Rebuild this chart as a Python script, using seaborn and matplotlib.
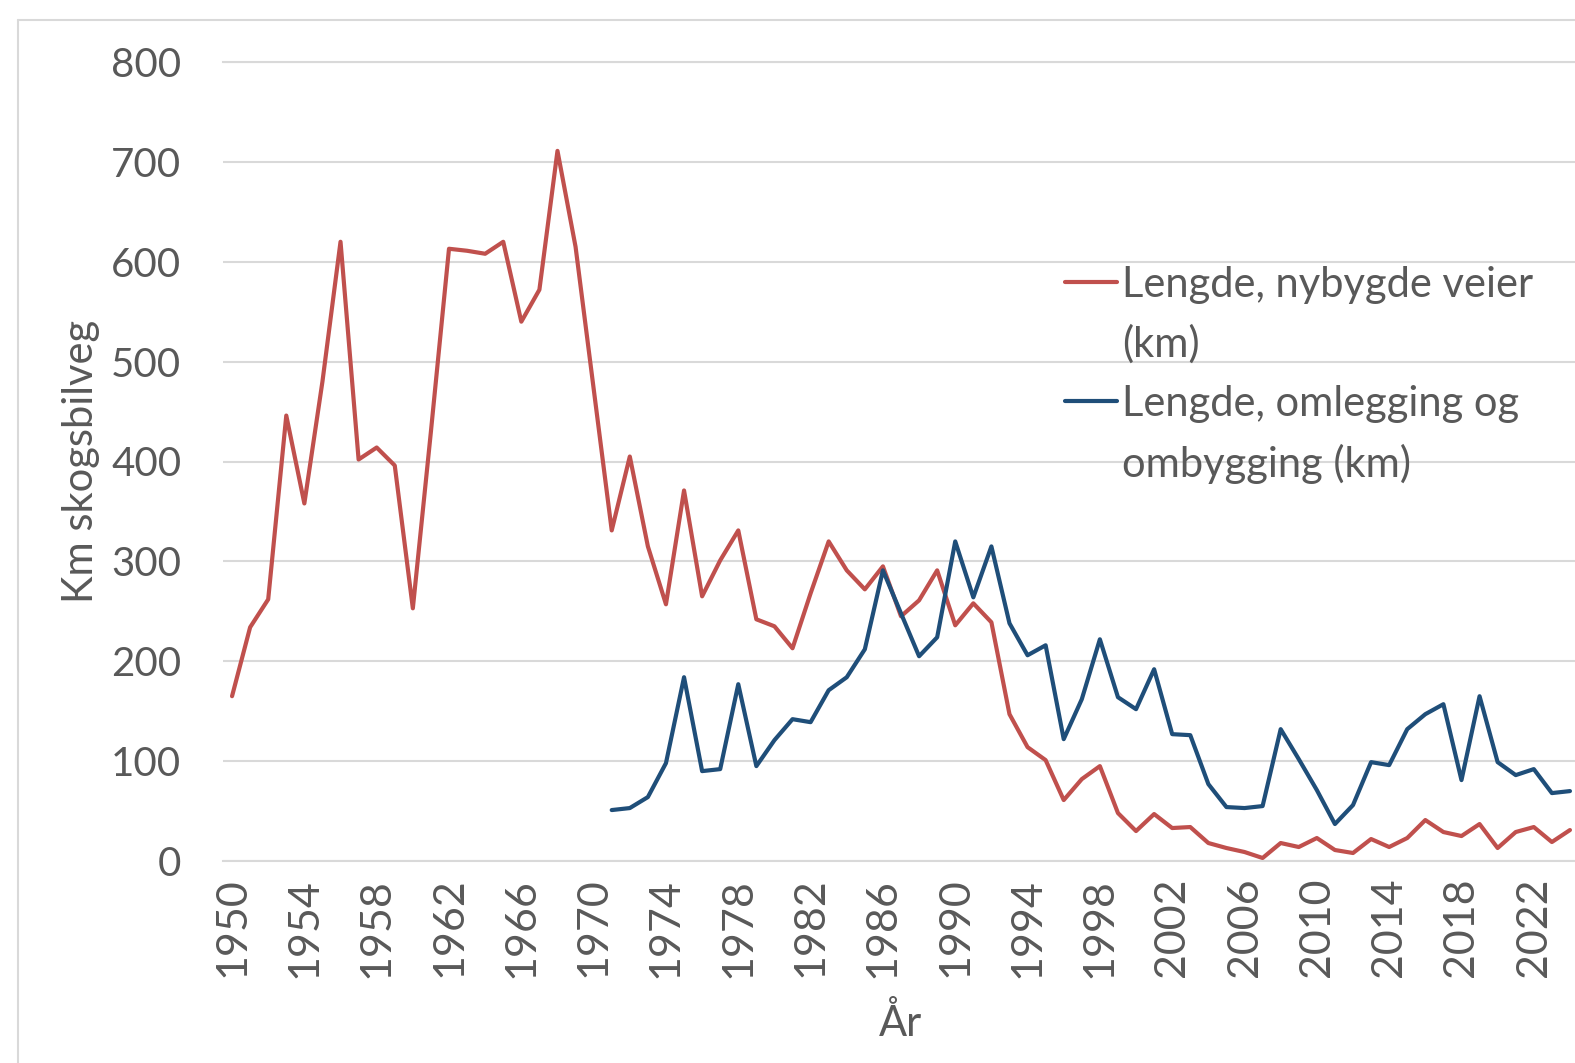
import matplotlib
matplotlib.use("Agg")
import matplotlib.pyplot as plt
from matplotlib.lines import Line2D
import seaborn as sns

# Data: km skogsbilveg per år
years = list(range(1950, 2025))
new_roads = [
    165, 234, 262, 446, 358, 480, 620, 402, 414, 396,
    253, 430, 613, 611, 608, 620, 540, 572, 711, 615,
    473, 331, 405, 315, 257, 371, 265, 301, 331, 242,
    235, 213, 268, 320, 291, 272, 295, 245, 261, 291,
    236, 258, 239, 147, 114, 101, 61, 82, 95, 48,
    30, 47, 33, 34, 18, 13, 9, 3, 18, 14,
    23, 11, 8, 22, 14, 23, 41, 29, 25, 37,
    13, 29, 34, 19, 31,
]
rebuild_start = 1971
rebuilt_roads = [
    51, 53, 64, 98, 184, 90, 92, 177, 95, 121,
    142, 139, 171, 184, 212, 291, 248, 205, 224, 320,
    264, 315, 238, 206, 216, 122, 162, 222, 164, 152,
    192, 127, 126, 77, 54, 53, 55, 132, 102, 71,
    37, 56, 99, 96, 132, 147, 157, 81, 165, 99,
    86, 92, 68, 70,
]
rebuild_years = years[years.index(rebuild_start):]

labels = ["Lengde, nybygde veier", "(km)", "Lengde, omlegging og", "ombygging (km)"]
x_ticks = list(range(1950, 2023, 4))
y_ticks = list(range(0, 801, 100))

RED = "#C0504D"
BLUE = "#1F4E79"
GREY = "#595959"
GRID = "#D9D9D9"

sns.set_style("white")
plt.rcParams["font.family"] = ["Lato", "DejaVu Sans"]

fig = plt.figure(figsize=(15.75, 10.63), dpi=100)
ax = fig.add_axes([223 / 1575, 202 / 1063, 1356 / 1575, 799 / 1063])

sns.lineplot(x=years, y=new_roads, color=RED, linewidth=3, ax=ax)
sns.lineplot(x=rebuild_years, y=rebuilt_roads, color=BLUE, linewidth=3, ax=ax)

ax.set_xlim(1949.5, 2024.5)
ax.set_ylim(0, 800)
ax.set_xticks(x_ticks)
ax.set_xticklabels([str(t) for t in x_ticks], rotation=90)
ax.set_yticks(y_ticks)
ax.tick_params(axis="both", length=0, colors=GREY)
ax.tick_params(axis="y", pad=30, labelsize=29)
ax.tick_params(axis="x", pad=12, labelsize=31)

ax.yaxis.grid(True, color=GRID, linewidth=1.5)
ax.xaxis.grid(False)
ax.set_axisbelow(True)
for side in ["left", "right"]:
    ax.spines[side].set_visible(False)
for side in ["top", "bottom"]:
    ax.spines[side].set_color(GRID)
    ax.spines[side].set_linewidth(1.5)

ax.set_ylabel("Km skogsbilveg", fontsize=30, color=GREY, labelpad=8)
ax.set_xlabel("År", fontsize=30, color=GREY, labelpad=18)

# legend: handle sits on the first line of each wrapped label
red_h = Line2D([], [], color=RED, linewidth=3)
blue_h = Line2D([], [], color=BLUE, linewidth=3)
blank = Line2D([], [], color="none")
leg = ax.legend([red_h, blank, blue_h, blank], labels,
                loc="upper left", bbox_to_anchor=(0.621, 0.745),
                frameon=False, fontsize=30, handlelength=1.25,
                handletextpad=0.12, labelspacing=0.5, borderpad=0,
                borderaxespad=0)
for t in leg.get_texts():
    t.set_color(GREY)

# chart area border (left and top edges visible)
fig.add_artist(Line2D([18 / 1575, 18 / 1575], [0, 1 - 20 / 1063],
                      transform=fig.transFigure, color=GRID, linewidth=1.5))
fig.add_artist(Line2D([18 / 1575, 1], [1 - 20 / 1063, 1 - 20 / 1063],
                      transform=fig.transFigure, color=GRID, linewidth=1.5))

fig.savefig("out.png", dpi=100)
